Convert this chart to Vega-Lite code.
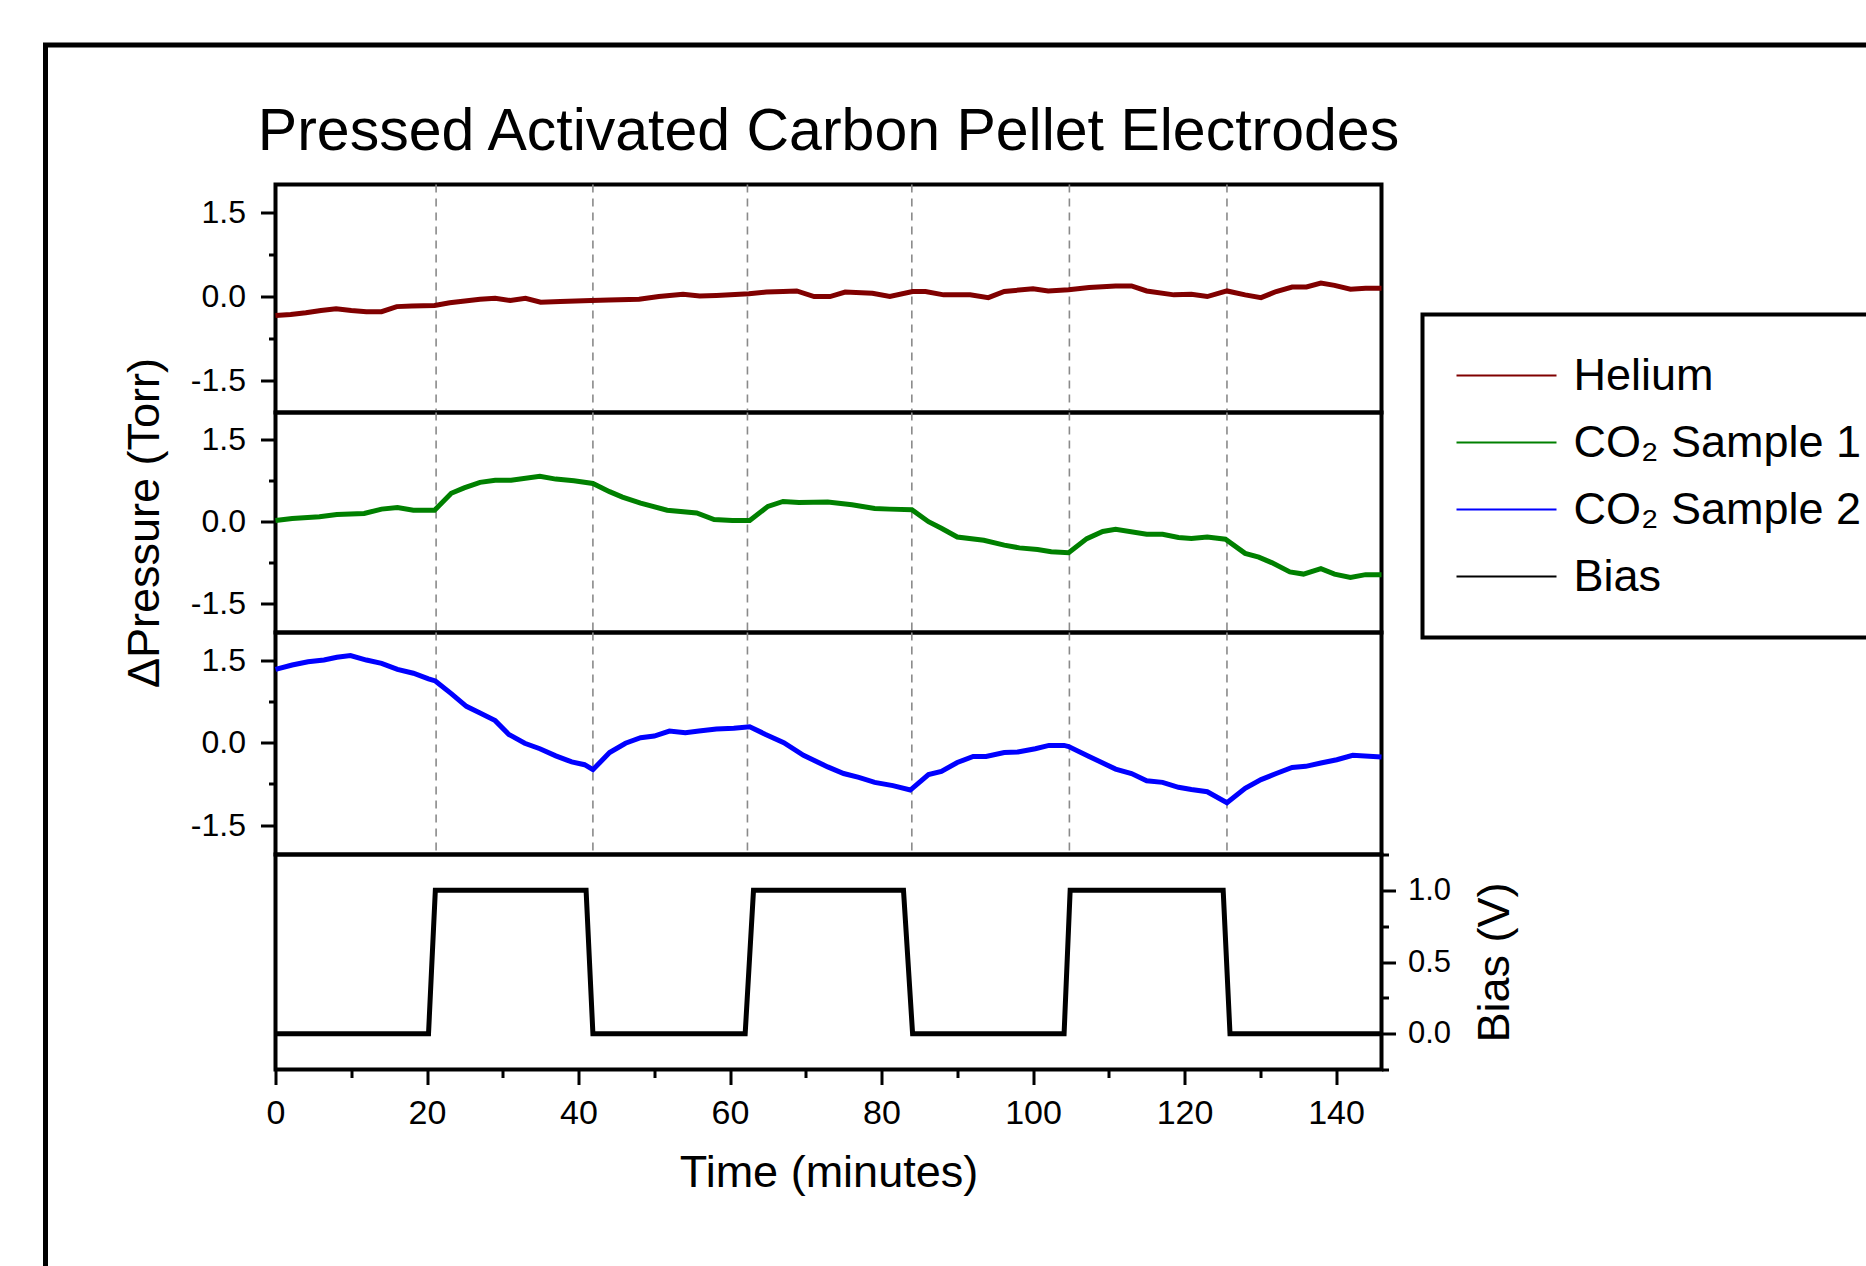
{
  "$schema": "https://vega.github.io/schema/vega-lite/v6.json",
  "background": "white",
  "padding": {"left": 42.5, "top": 42.5, "right": 0, "bottom": 0},
  "bounds": "flush",
  "spacing": 0,
  "config": {
    "font": "Liberation Sans",
    "view": {"stroke": "black", "strokeWidth": 4},
    "axis": {
      "labelFont": "Liberation Sans", "labelFontSize": 32, "labelColor": "black",
      "titleFont": "Liberation Sans", "titleFontSize": 45, "titleFontWeight": "normal", "titleColor": "black",
      "tickColor": "black", "tickWidth": 3, "domain": false, "grid": false, "labelFlush": false
    },
    "legend": {
      "orient": "none", "legendX": 1147, "legendY": 130, "strokeColor": "black", "strokeWidth": 5,
      "padding": 33, "symbolType": "stroke", "symbolSize": 10000, "symbolStrokeWidth": 2, "clipHeight": 56,
      "labelFont": "Liberation Sans", "labelFontSize": 45, "labelColor": "black", "labelOffset": 16,
      "rowPadding": 11, "labelLimit": 0
    },
    "title": {"font": "Liberation Sans", "fontSize": 59, "fontWeight": "normal", "color": "black"}
  },
  "datasets": {
    "helium": [
      {"t": 0, "v": -0.34, "series": "Helium"}, {"t": 2, "v": -0.32, "series": "Helium"}, {"t": 4, "v": -0.29, "series": "Helium"},
      {"t": 6, "v": -0.25, "series": "Helium"}, {"t": 8, "v": -0.22, "series": "Helium"}, {"t": 10, "v": -0.25, "series": "Helium"},
      {"t": 12, "v": -0.27, "series": "Helium"}, {"t": 14, "v": -0.27, "series": "Helium"}, {"t": 16, "v": -0.18, "series": "Helium"},
      {"t": 18, "v": -0.17, "series": "Helium"}, {"t": 21, "v": -0.16, "series": "Helium"}, {"t": 23, "v": -0.11, "series": "Helium"},
      {"t": 25, "v": -0.08, "series": "Helium"}, {"t": 27, "v": -0.05, "series": "Helium"}, {"t": 29, "v": -0.03, "series": "Helium"},
      {"t": 31, "v": -0.07, "series": "Helium"}, {"t": 33, "v": -0.03, "series": "Helium"}, {"t": 35, "v": -0.1, "series": "Helium"},
      {"t": 37.6, "v": -0.09, "series": "Helium"}, {"t": 41.7, "v": -0.07, "series": "Helium"}, {"t": 44, "v": -0.06, "series": "Helium"},
      {"t": 48, "v": -0.05, "series": "Helium"}, {"t": 50.6, "v": 0.0, "series": "Helium"}, {"t": 53.8, "v": 0.04, "series": "Helium"},
      {"t": 56, "v": 0.01, "series": "Helium"}, {"t": 58.2, "v": 0.02, "series": "Helium"}, {"t": 62.5, "v": 0.05, "series": "Helium"},
      {"t": 64.8, "v": 0.08, "series": "Helium"}, {"t": 67, "v": 0.09, "series": "Helium"}, {"t": 68.8, "v": 0.1, "series": "Helium"},
      {"t": 71.1, "v": 0.0, "series": "Helium"}, {"t": 73.2, "v": 0.0, "series": "Helium"}, {"t": 75.2, "v": 0.08, "series": "Helium"},
      {"t": 78.8, "v": 0.06, "series": "Helium"}, {"t": 81.1, "v": 0.0, "series": "Helium"}, {"t": 84.1, "v": 0.09, "series": "Helium"},
      {"t": 85.8, "v": 0.09, "series": "Helium"}, {"t": 88.2, "v": 0.03, "series": "Helium"}, {"t": 91.7, "v": 0.03, "series": "Helium"},
      {"t": 94.1, "v": -0.02, "series": "Helium"}, {"t": 96.2, "v": 0.09, "series": "Helium"}, {"t": 100, "v": 0.14, "series": "Helium"},
      {"t": 102, "v": 0.1, "series": "Helium"}, {"t": 104.7, "v": 0.12, "series": "Helium"}, {"t": 107.4, "v": 0.16, "series": "Helium"},
      {"t": 110.9, "v": 0.19, "series": "Helium"}, {"t": 113, "v": 0.19, "series": "Helium"}, {"t": 115, "v": 0.1, "series": "Helium"},
      {"t": 118.6, "v": 0.03, "series": "Helium"}, {"t": 120.9, "v": 0.04, "series": "Helium"}, {"t": 123, "v": 0.0, "series": "Helium"},
      {"t": 125.6, "v": 0.1, "series": "Helium"}, {"t": 128, "v": 0.03, "series": "Helium"}, {"t": 130.1, "v": -0.02, "series": "Helium"},
      {"t": 132.1, "v": 0.09, "series": "Helium"}, {"t": 134.2, "v": 0.17, "series": "Helium"}, {"t": 136.1, "v": 0.17, "series": "Helium"},
      {"t": 138, "v": 0.24, "series": "Helium"}, {"t": 139.8, "v": 0.2, "series": "Helium"}, {"t": 141.9, "v": 0.13, "series": "Helium"},
      {"t": 143.9, "v": 0.15, "series": "Helium"}, {"t": 146, "v": 0.15, "series": "Helium"}
    ],
    "co2s1": [
      {"t": 0, "v": 0.02, "series": "CO₂ Sample 1"}, {"t": 2.2, "v": 0.06, "series": "CO₂ Sample 1"}, {"t": 5.8, "v": 0.09, "series": "CO₂ Sample 1"},
      {"t": 8.1, "v": 0.13, "series": "CO₂ Sample 1"}, {"t": 11.7, "v": 0.15, "series": "CO₂ Sample 1"}, {"t": 14, "v": 0.23, "series": "CO₂ Sample 1"},
      {"t": 16.1, "v": 0.26, "series": "CO₂ Sample 1"}, {"t": 18.2, "v": 0.21, "series": "CO₂ Sample 1"}, {"t": 21, "v": 0.21, "series": "CO₂ Sample 1"},
      {"t": 23.2, "v": 0.52, "series": "CO₂ Sample 1"}, {"t": 24.9, "v": 0.62, "series": "CO₂ Sample 1"}, {"t": 27, "v": 0.72, "series": "CO₂ Sample 1"},
      {"t": 29, "v": 0.76, "series": "CO₂ Sample 1"}, {"t": 31.1, "v": 0.76, "series": "CO₂ Sample 1"}, {"t": 34.9, "v": 0.83, "series": "CO₂ Sample 1"},
      {"t": 37, "v": 0.78, "series": "CO₂ Sample 1"}, {"t": 39.4, "v": 0.75, "series": "CO₂ Sample 1"}, {"t": 41.9, "v": 0.7, "series": "CO₂ Sample 1"},
      {"t": 44.1, "v": 0.55, "series": "CO₂ Sample 1"}, {"t": 45.8, "v": 0.45, "series": "CO₂ Sample 1"}, {"t": 48.2, "v": 0.34, "series": "CO₂ Sample 1"},
      {"t": 51.7, "v": 0.21, "series": "CO₂ Sample 1"}, {"t": 55.6, "v": 0.16, "series": "CO₂ Sample 1"}, {"t": 57.9, "v": 0.04, "series": "CO₂ Sample 1"},
      {"t": 60.3, "v": 0.02, "series": "CO₂ Sample 1"}, {"t": 62.6, "v": 0.02, "series": "CO₂ Sample 1"}, {"t": 65, "v": 0.28, "series": "CO₂ Sample 1"},
      {"t": 67, "v": 0.37, "series": "CO₂ Sample 1"}, {"t": 69.1, "v": 0.35, "series": "CO₂ Sample 1"}, {"t": 72.9, "v": 0.36, "series": "CO₂ Sample 1"},
      {"t": 76.1, "v": 0.31, "series": "CO₂ Sample 1"}, {"t": 79.1, "v": 0.24, "series": "CO₂ Sample 1"}, {"t": 81.1, "v": 0.23, "series": "CO₂ Sample 1"},
      {"t": 84, "v": 0.22, "series": "CO₂ Sample 1"}, {"t": 86.2, "v": 0.0, "series": "CO₂ Sample 1"}, {"t": 87.9, "v": -0.12, "series": "CO₂ Sample 1"},
      {"t": 90, "v": -0.28, "series": "CO₂ Sample 1"}, {"t": 93.5, "v": -0.34, "series": "CO₂ Sample 1"}, {"t": 96.2, "v": -0.43, "series": "CO₂ Sample 1"},
      {"t": 98.2, "v": -0.48, "series": "CO₂ Sample 1"}, {"t": 100.6, "v": -0.51, "series": "CO₂ Sample 1"}, {"t": 102.4, "v": -0.55, "series": "CO₂ Sample 1"},
      {"t": 104.7, "v": -0.57, "series": "CO₂ Sample 1"}, {"t": 107.1, "v": -0.31, "series": "CO₂ Sample 1"}, {"t": 109.2, "v": -0.18, "series": "CO₂ Sample 1"},
      {"t": 110.9, "v": -0.14, "series": "CO₂ Sample 1"}, {"t": 115, "v": -0.23, "series": "CO₂ Sample 1"}, {"t": 117.1, "v": -0.23, "series": "CO₂ Sample 1"},
      {"t": 119.2, "v": -0.29, "series": "CO₂ Sample 1"}, {"t": 120.9, "v": -0.31, "series": "CO₂ Sample 1"}, {"t": 123, "v": -0.28, "series": "CO₂ Sample 1"},
      {"t": 125.4, "v": -0.32, "series": "CO₂ Sample 1"}, {"t": 128, "v": -0.58, "series": "CO₂ Sample 1"}, {"t": 129.8, "v": -0.65, "series": "CO₂ Sample 1"},
      {"t": 131.5, "v": -0.75, "series": "CO₂ Sample 1"}, {"t": 133.9, "v": -0.92, "series": "CO₂ Sample 1"}, {"t": 135.7, "v": -0.96, "series": "CO₂ Sample 1"},
      {"t": 138, "v": -0.86, "series": "CO₂ Sample 1"}, {"t": 139.8, "v": -0.96, "series": "CO₂ Sample 1"}, {"t": 141.9, "v": -1.02, "series": "CO₂ Sample 1"},
      {"t": 143.9, "v": -0.97, "series": "CO₂ Sample 1"}, {"t": 146, "v": -0.97, "series": "CO₂ Sample 1"}
    ],
    "co2s2": [
      {"t": 0, "v": 1.33, "series": "CO₂ Sample 2"}, {"t": 2.2, "v": 1.41, "series": "CO₂ Sample 2"}, {"t": 4.3, "v": 1.47, "series": "CO₂ Sample 2"},
      {"t": 6.4, "v": 1.5, "series": "CO₂ Sample 2"}, {"t": 8.1, "v": 1.55, "series": "CO₂ Sample 2"}, {"t": 9.9, "v": 1.58, "series": "CO₂ Sample 2"},
      {"t": 12, "v": 1.5, "series": "CO₂ Sample 2"}, {"t": 14, "v": 1.44, "series": "CO₂ Sample 2"}, {"t": 16.1, "v": 1.33, "series": "CO₂ Sample 2"},
      {"t": 18.2, "v": 1.26, "series": "CO₂ Sample 2"}, {"t": 20.2, "v": 1.16, "series": "CO₂ Sample 2"}, {"t": 21.1, "v": 1.12, "series": "CO₂ Sample 2"},
      {"t": 23.2, "v": 0.89, "series": "CO₂ Sample 2"}, {"t": 25.2, "v": 0.66, "series": "CO₂ Sample 2"}, {"t": 27, "v": 0.54, "series": "CO₂ Sample 2"},
      {"t": 29, "v": 0.4, "series": "CO₂ Sample 2"}, {"t": 30.8, "v": 0.15, "series": "CO₂ Sample 2"}, {"t": 32.9, "v": -0.01, "series": "CO₂ Sample 2"},
      {"t": 34.9, "v": -0.11, "series": "CO₂ Sample 2"}, {"t": 37, "v": -0.24, "series": "CO₂ Sample 2"}, {"t": 39.1, "v": -0.35, "series": "CO₂ Sample 2"},
      {"t": 40.8, "v": -0.4, "series": "CO₂ Sample 2"}, {"t": 41.9, "v": -0.49, "series": "CO₂ Sample 2"}, {"t": 44.1, "v": -0.18, "series": "CO₂ Sample 2"},
      {"t": 46.2, "v": -0.01, "series": "CO₂ Sample 2"}, {"t": 48.2, "v": 0.09, "series": "CO₂ Sample 2"}, {"t": 50, "v": 0.12, "series": "CO₂ Sample 2"},
      {"t": 52, "v": 0.21, "series": "CO₂ Sample 2"}, {"t": 54.1, "v": 0.18, "series": "CO₂ Sample 2"}, {"t": 55.9, "v": 0.21, "series": "CO₂ Sample 2"},
      {"t": 58.2, "v": 0.25, "series": "CO₂ Sample 2"}, {"t": 60.5, "v": 0.26, "series": "CO₂ Sample 2"}, {"t": 62.6, "v": 0.29, "series": "CO₂ Sample 2"},
      {"t": 64.7, "v": 0.15, "series": "CO₂ Sample 2"}, {"t": 67.1, "v": 0.0, "series": "CO₂ Sample 2"}, {"t": 69.7, "v": -0.23, "series": "CO₂ Sample 2"},
      {"t": 72.9, "v": -0.44, "series": "CO₂ Sample 2"}, {"t": 75, "v": -0.56, "series": "CO₂ Sample 2"}, {"t": 77, "v": -0.63, "series": "CO₂ Sample 2"},
      {"t": 79.1, "v": -0.72, "series": "CO₂ Sample 2"}, {"t": 81.5, "v": -0.78, "series": "CO₂ Sample 2"}, {"t": 83.8, "v": -0.86, "series": "CO₂ Sample 2"},
      {"t": 86.2, "v": -0.58, "series": "CO₂ Sample 2"}, {"t": 87.9, "v": -0.52, "series": "CO₂ Sample 2"}, {"t": 90, "v": -0.36, "series": "CO₂ Sample 2"},
      {"t": 92.1, "v": -0.25, "series": "CO₂ Sample 2"}, {"t": 93.8, "v": -0.25, "series": "CO₂ Sample 2"}, {"t": 96.2, "v": -0.18, "series": "CO₂ Sample 2"},
      {"t": 98, "v": -0.17, "series": "CO₂ Sample 2"}, {"t": 100.3, "v": -0.11, "series": "CO₂ Sample 2"}, {"t": 102.1, "v": -0.05, "series": "CO₂ Sample 2"},
      {"t": 104.1, "v": -0.05, "series": "CO₂ Sample 2"}, {"t": 104.7, "v": -0.07, "series": "CO₂ Sample 2"}, {"t": 107.4, "v": -0.25, "series": "CO₂ Sample 2"},
      {"t": 110.9, "v": -0.48, "series": "CO₂ Sample 2"}, {"t": 113, "v": -0.56, "series": "CO₂ Sample 2"}, {"t": 115, "v": -0.69, "series": "CO₂ Sample 2"},
      {"t": 117.1, "v": -0.72, "series": "CO₂ Sample 2"}, {"t": 119.2, "v": -0.81, "series": "CO₂ Sample 2"}, {"t": 120.9, "v": -0.85, "series": "CO₂ Sample 2"},
      {"t": 123, "v": -0.89, "series": "CO₂ Sample 2"}, {"t": 125.6, "v": -1.09, "series": "CO₂ Sample 2"}, {"t": 128, "v": -0.83, "series": "CO₂ Sample 2"},
      {"t": 130.1, "v": -0.67, "series": "CO₂ Sample 2"}, {"t": 132.1, "v": -0.56, "series": "CO₂ Sample 2"}, {"t": 134.2, "v": -0.45, "series": "CO₂ Sample 2"},
      {"t": 136, "v": -0.43, "series": "CO₂ Sample 2"}, {"t": 138, "v": -0.37, "series": "CO₂ Sample 2"}, {"t": 140.1, "v": -0.31, "series": "CO₂ Sample 2"},
      {"t": 142.2, "v": -0.23, "series": "CO₂ Sample 2"}, {"t": 146, "v": -0.26, "series": "CO₂ Sample 2"}
    ],
    "bias": [
      {"t": 0, "v": 0, "series": "Bias"}, {"t": 20.2, "v": 0, "series": "Bias"}, {"t": 21.1, "v": 1, "series": "Bias"},
      {"t": 41.0, "v": 1, "series": "Bias"}, {"t": 41.9, "v": 0, "series": "Bias"}, {"t": 62.0, "v": 0, "series": "Bias"},
      {"t": 63.1, "v": 1, "series": "Bias"}, {"t": 82.9, "v": 1, "series": "Bias"}, {"t": 84.1, "v": 0, "series": "Bias"},
      {"t": 104.1, "v": 0, "series": "Bias"}, {"t": 104.9, "v": 1, "series": "Bias"}, {"t": 125.1, "v": 1, "series": "Bias"},
      {"t": 126.0, "v": 0, "series": "Bias"}, {"t": 146, "v": 0, "series": "Bias"}
    ],
    "events": [
      {"t": 21.2, "event": "bias switch"}, {"t": 41.9, "event": "bias switch"}, {"t": 62.3, "event": "bias switch"},
      {"t": 84.0, "event": "bias switch"}, {"t": 104.8, "event": "bias switch"}, {"t": 125.6, "event": "bias switch"}
    ]
  },
  "vconcat": [
    {
      "width": 1106, "height": 228,
      "title": {"text": "Pressed Activated Carbon Pellet Electrodes", "anchor": "middle", "frame": "group", "baseline": "alphabetic", "offset": -25},
      "layer": [
        {"data": {"name": "events"}, "mark": {"type": "rule", "color": "#8a8a8a", "strokeWidth": 1.6, "strokeDash": [8, 6]},
         "encoding": {
           "x": {"field": "t", "type": "quantitative", "scale": {"domain": [0, 146], "nice": false, "zero": false}, "axis": null},
           "opacity": {"field": "event", "type": "ordinal", "scale": {"range": [1, 1]},
                       "legend": {"title": null, "orient": "none", "legendX": -230, "legendY": -139.5, "padding": 10,
                                  "symbolType": "square", "symbolSize": 1452025, "symbolOpacity": 0, "symbolStrokeWidth": 0,
                                  "clipHeight": 1300, "labelOpacity": 0, "labelFontSize": 1, "labelOffset": 600, "labelLimit": 5,
                                  "strokeColor": "black", "encode": {"legend": {"update": {"strokeWidth": {"value": 5}, "stroke": {"value": "black"}}}}}}
         }},
        {"data": {"name": "helium"}, "mark": {"type": "line", "strokeWidth": 5},
         "encoding": {
           "x": {"field": "t", "type": "quantitative", "scale": {"domain": [0, 146], "nice": false, "zero": false}, "axis": null},
           "y": {"field": "v", "type": "quantitative", "scale": {"domain": [-2.07, 2.0], "nice": false, "zero": false},
                 "axis": {"title": null, "values": [-1.5, -0.75, 0, 0.75, 1.5], "labelPadding": 15,
                          "labelExpr": "datum.value == 1.5 ? '1.5' : datum.value == -1.5 ? '-1.5' : datum.value == 0 ? '0.0' : ''",
                          "tickSize": {"condition": {"test": "abs(datum.value) == 0.75", "value": 7}, "value": 15}}},
           "color": {"field": "series", "type": "nominal",
                     "scale": {"domain": ["Helium", "CO₂ Sample 1", "CO₂ Sample 2", "Bias"], "range": ["#800000", "#008000", "#0000ff", "#000000"]},
                     "legend": {"title": null, "encode": {"legend": {"update": {"strokeWidth": {"value": 4}}}}}}
         }}
      ]
    },
    {
      "width": 1106, "height": 220,
      "layer": [
        {"data": {"name": "events"}, "mark": {"type": "rule", "color": "#8a8a8a", "strokeWidth": 1.6, "strokeDash": [8, 6]},
         "encoding": {"x": {"field": "t", "type": "quantitative", "scale": {"domain": [0, 146], "nice": false, "zero": false}, "axis": null}}},
        {"data": {"name": "co2s1"}, "mark": {"type": "line", "strokeWidth": 5},
         "encoding": {
           "x": {"field": "t", "type": "quantitative", "scale": {"domain": [0, 146], "nice": false, "zero": false}, "axis": null},
           "y": {"field": "v", "type": "quantitative", "scale": {"domain": [-2.03, 2.0], "nice": false, "zero": false},
                 "axis": {"title": "ΔPressure (Torr)", "titlePadding": 23, "values": [-1.5, -0.75, 0, 0.75, 1.5], "labelPadding": 15,
                          "labelExpr": "datum.value == 1.5 ? '1.5' : datum.value == -1.5 ? '-1.5' : datum.value == 0 ? '0.0' : ''",
                          "tickSize": {"condition": {"test": "abs(datum.value) == 0.75", "value": 7}, "value": 15}}},
           "color": {"field": "series", "type": "nominal",
                     "scale": {"domain": ["Helium", "CO₂ Sample 1", "CO₂ Sample 2", "Bias"], "range": ["#800000", "#008000", "#0000ff", "#000000"]},
                     "legend": {"title": null, "encode": {"legend": {"update": {"strokeWidth": {"value": 4}}}}}}
         }}
      ]
    },
    {
      "width": 1106, "height": 222,
      "layer": [
        {"data": {"name": "events"}, "mark": {"type": "rule", "color": "#8a8a8a", "strokeWidth": 1.6, "strokeDash": [8, 6]},
         "encoding": {"x": {"field": "t", "type": "quantitative", "scale": {"domain": [0, 146], "nice": false, "zero": false}, "axis": null}}},
        {"data": {"name": "co2s2"}, "mark": {"type": "line", "strokeWidth": 5},
         "encoding": {
           "x": {"field": "t", "type": "quantitative", "scale": {"domain": [0, 146], "nice": false, "zero": false}, "axis": null},
           "y": {"field": "v", "type": "quantitative", "scale": {"domain": [-2.03, 2.0], "nice": false, "zero": false},
                 "axis": {"title": null, "values": [-1.5, -0.75, 0, 0.75, 1.5], "labelPadding": 15,
                          "labelExpr": "datum.value == 1.5 ? '1.5' : datum.value == -1.5 ? '-1.5' : datum.value == 0 ? '0.0' : ''",
                          "tickSize": {"condition": {"test": "abs(datum.value) == 0.75", "value": 7}, "value": 15}}},
           "color": {"field": "series", "type": "nominal",
                     "scale": {"domain": ["Helium", "CO₂ Sample 1", "CO₂ Sample 2", "Bias"], "range": ["#800000", "#008000", "#0000ff", "#000000"]},
                     "legend": {"title": null, "encode": {"legend": {"update": {"strokeWidth": {"value": 4}}}}}}
         }}
      ]
    },
    {
      "width": 1106, "height": 215,
      "data": {"name": "bias"},
      "mark": {"type": "line", "strokeWidth": 5},
      "encoding": {
        "x": {"field": "t", "type": "quantitative", "scale": {"domain": [0, 146], "nice": false, "zero": false},
              "axis": {"title": "Time (minutes)", "titlePadding": 20, "values": [0, 10, 20, 30, 40, 50, 60, 70, 80, 90, 100, 110, 120, 130, 140],
                       "labelPadding": 12, "labelFontSize": 34, "labelExpr": "datum.value % 20 == 0 ? datum.label : ''",
                       "tickSize": {"condition": {"test": "datum.value % 20 != 0", "value": 8}, "value": 15}}},
        "y": {"field": "v", "type": "quantitative", "scale": {"domain": [-0.25, 1.25], "nice": false, "zero": false},
              "axis": {"orient": "right", "title": "Bias (V)", "titleAngle": 270, "titleBaseline": "top", "titlePadding": 22,
                       "values": [-0.25, 0, 0.25, 0.5, 0.75, 1, 1.25], "labelPadding": 12, "labelFontSize": 31,
                       "labelExpr": "datum.value == 1 ? '1.0' : datum.value == 0.5 ? '0.5' : datum.value == 0 ? '0.0' : ''",
                       "tickSize": {"condition": {"test": "datum.value == 0 || datum.value == 0.5 || datum.value == 1", "value": 14}, "value": 7}}},
        "color": {"field": "series", "type": "nominal",
                  "scale": {"domain": ["Helium", "CO₂ Sample 1", "CO₂ Sample 2", "Bias"], "range": ["#800000", "#008000", "#0000ff", "#000000"]},
                  "legend": {"title": null, "encode": {"legend": {"update": {"strokeWidth": {"value": 4}}}}}}
      }
    }
  ]
}
